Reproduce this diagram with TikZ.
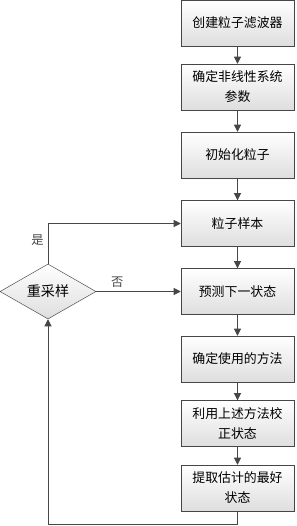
\documentclass[tikz,border=0pt]{standalone}
\usepackage{fontspec}
\setmainfont{Noto Sans CJK SC}
\usepackage{tikz}
\usetikzlibrary{shapes.geometric, arrows.meta, positioning}
\usepackage{xcolor}
\definecolor{edgegray}{RGB}{70, 70, 70}
\definecolor{shadegray}{RGB}{222, 222, 222}

\begin{document}
\begin{tikzpicture}[
    stepbox/.style={rectangle, draw=edgegray, top color=white, bottom color=shadegray, minimum width=3.39cm, minimum height=1.38cm, font=\fontsize{11}{17}\selectfont, align=center},
    decide/.style={diamond, draw=edgegray, top color=white, bottom color=shadegray, aspect=1.75, inner sep=0pt, minimum width=2.88cm, minimum height=1.65cm, font=\fontsize{12}{14}\selectfont},
    arr/.style={-{Triangle[width=6pt,length=6pt]}, thick, edgegray},
    lbl/.style={font=\fontsize{10.5}{12}\selectfont},
]
\useasboundingbox (0,0) rectangle (8.88,-15.78);

% 主流程
\node[stepbox] (s1) at (7.125, -0.69)  {创建粒子滤波器};
\node[stepbox] (s2) at (7.125, -2.61)  {确定非线性系统\\参数};
\node[stepbox] (s3) at (7.125, -4.65)  {初始化粒子};
\node[stepbox] (s4) at (7.125, -6.705) {粒子样本};
\node[stepbox] (s5) at (7.125, -8.745) {预测下一状态};
\node[stepbox] (s6) at (7.125, -10.77) {确定使用的方法};
\node[stepbox] (s7) at (7.125, -12.705){利用上述方法校\\正状态};
\node[stepbox] (s8) at (7.125, -14.64) {提取估计的最好\\状态};

% 判断
\node[decide] (rs) at (1.44, -8.745) {重采样};
\coordinate (c1) at (1.44, -15.72);
\coordinate (c2) at (7.125, -15.72);

% 步骤间箭头
\draw[arr] (s1) -- (s2);
\draw[arr] (s2) -- (s3);
\draw[arr] (s3) -- (s4);
\draw[arr] (s4) -- (s5);
\draw[arr] (s5) -- (s6);
\draw[arr] (s6) -- (s7);
\draw[arr] (s7) -- (s8);

% 回路
\draw[arr] (s8.south) -- (c2) -- (c1) -- (rs.south);
\draw[arr] (rs.north) |- node[pos=0.3, left, lbl] {是} (s4.west);
\draw[arr] (rs.east) -- node[pos=0.25, above, lbl] {否} (s5.west);

\end{tikzpicture}
\end{document}
